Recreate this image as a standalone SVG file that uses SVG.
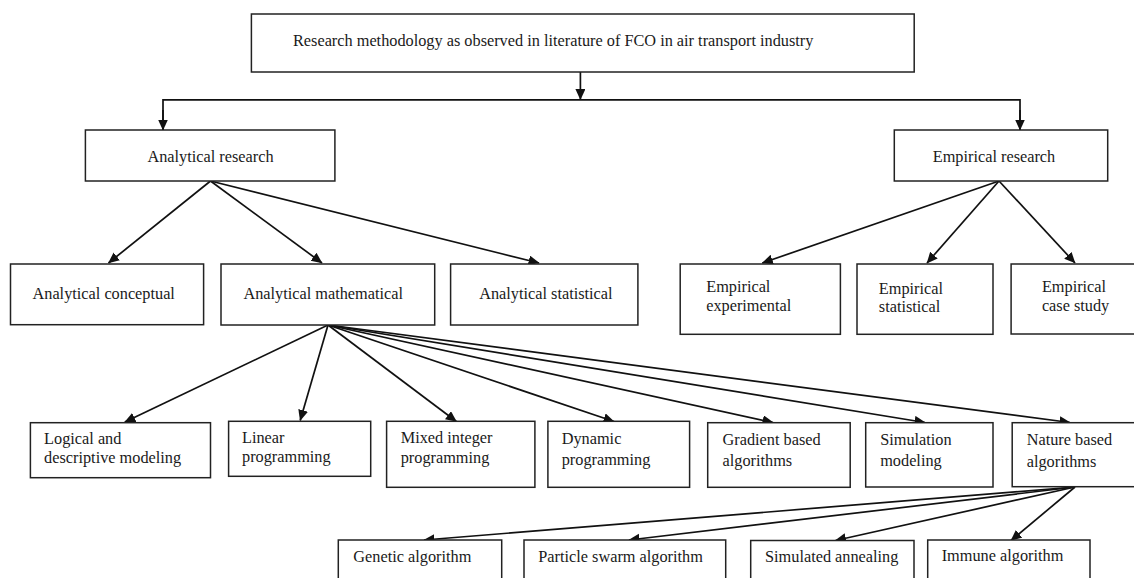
<svg xmlns="http://www.w3.org/2000/svg" width="1134" height="578" viewBox="0 0 1134 578">
<style>
.box{fill:#fff;stroke:#222;stroke-width:1.5}
.lbl{font-family:"Liberation Serif","Times New Roman",serif;font-size:16.3px;fill:#1a1a1a}
.c{text-anchor:middle}
.ln{fill:none;stroke:#111;stroke-width:1.7}
</style>
<defs>
<marker id="ah" markerUnits="userSpaceOnUse" markerWidth="12" markerHeight="12" refX="10.5" refY="5" orient="auto">
<path d="M0,0 L11,5 L0,10 z" fill="#111"/>
</marker>
</defs>
<rect width="1134" height="578" fill="#fff"/>

<g id="connectors">
<line class="ln" x1="580.4" y1="72" x2="580.4" y2="99.5" marker-end="url(#ah)"/>
<polyline class="ln" points="163,130 163,99.8 1020,99.8 1020,130"/>
<line class="ln" x1="163" y1="110" x2="163" y2="130" marker-end="url(#ah)"/>
<line class="ln" x1="1020" y1="110" x2="1020" y2="130" marker-end="url(#ah)"/>

<line class="ln" x1="210.5" y1="181" x2="108.5" y2="263" marker-end="url(#ah)"/>
<line class="ln" x1="210.5" y1="181" x2="322" y2="263" marker-end="url(#ah)"/>
<line class="ln" x1="210.5" y1="181" x2="539" y2="263" marker-end="url(#ah)"/>

<line class="ln" x1="999" y1="181" x2="762.3" y2="263" marker-end="url(#ah)"/>
<line class="ln" x1="999" y1="181" x2="927" y2="263" marker-end="url(#ah)"/>
<line class="ln" x1="999" y1="181" x2="1075" y2="263" marker-end="url(#ah)"/>

<line class="ln" x1="328" y1="325" x2="124.8" y2="422" marker-end="url(#ah)"/>
<line class="ln" x1="328" y1="325" x2="300.2" y2="420.5" marker-end="url(#ah)"/>
<line class="ln" x1="328" y1="325" x2="456.4" y2="421.5" marker-end="url(#ah)"/>
<line class="ln" x1="328" y1="325" x2="614" y2="421.5" marker-end="url(#ah)"/>
<line class="ln" x1="328" y1="325" x2="773" y2="422.5" marker-end="url(#ah)"/>
<line class="ln" x1="328" y1="325" x2="925" y2="422.5" marker-end="url(#ah)"/>
<line class="ln" x1="328" y1="325" x2="1070" y2="422.5" marker-end="url(#ah)"/>

<line class="ln" x1="1075" y1="487" x2="424" y2="540" marker-end="url(#ah)"/>
<line class="ln" x1="1075" y1="487" x2="629" y2="540" marker-end="url(#ah)"/>
<line class="ln" x1="1075" y1="487" x2="835.5" y2="540.5" marker-end="url(#ah)"/>
<line class="ln" x1="1075" y1="487" x2="1011" y2="540.5" marker-end="url(#ah)"/>
</g>

<g id="root">
<rect class="box" x="251.4" y="14" width="662.8" height="58"/>
<text class="lbl" x="293" y="46">Research methodology as observed in literature of FCO in air transport industry</text>
</g>

<g id="analytical-research">
<rect class="box" x="85.4" y="130" width="249.5" height="51"/>
<text class="lbl c" x="210.5" y="162">Analytical research</text>
</g>
<g id="empirical-research">
<rect class="box" x="894.3" y="130" width="213.4" height="51"/>
<text class="lbl c" x="994" y="162">Empirical research</text>
</g>

<g id="analytical-conceptual">
<rect class="box" x="10.5" y="264" width="193.1" height="60.7"/>
<text class="lbl" x="32.5" y="299">Analytical conceptual</text>
</g>
<g id="analytical-mathematical">
<rect class="box" x="221" y="264" width="213.7" height="61"/>
<text class="lbl" x="243.4" y="299">Analytical mathematical</text>
</g>
<g id="analytical-statistical">
<rect class="box" x="450.6" y="264" width="187.3" height="61"/>
<text class="lbl" x="479.2" y="299">Analytical statistical</text>
</g>

<g id="empirical-experimental">
<rect class="box" x="680.2" y="264" width="160.2" height="70.3"/>
<text class="lbl" x="706.2" y="291.7">Empirical<tspan x="706.2" y="310.7">experimental</tspan></text>
</g>
<g id="empirical-statistical">
<rect class="box" x="857" y="264" width="136" height="70.3"/>
<text class="lbl" x="878.8" y="293.5">Empirical<tspan x="878.8" y="312.3">statistical</tspan></text>
</g>
<g id="empirical-case-study">
<rect class="box" x="1011.1" y="264" width="130" height="70"/>
<text class="lbl" x="1041.9" y="291.5">Empirical<tspan x="1041.9" y="310.5">case study</tspan></text>
</g>

<g id="logical-descriptive">
<rect class="box" x="30.4" y="422.7" width="180.1" height="55"/>
<text class="lbl" x="44.1" y="444.3">Logical and<tspan x="44.1" y="463.3">descriptive modeling</tspan></text>
</g>
<g id="linear-programming">
<rect class="box" x="228.6" y="421.3" width="142.1" height="55"/>
<text class="lbl" x="242" y="443.3">Linear<tspan x="242" y="461.7">programming</tspan></text>
</g>
<g id="mixed-integer">
<rect class="box" x="386.6" y="421.3" width="148.3" height="66"/>
<text class="lbl" x="400.7" y="443.3">Mixed integer<tspan x="400.7" y="463.3">programming</tspan></text>
</g>
<g id="dynamic-programming">
<rect class="box" x="547.9" y="421.3" width="141.7" height="66"/>
<text class="lbl" x="561.7" y="444.3">Dynamic<tspan x="561.7" y="465">programming</tspan></text>
</g>
<g id="gradient-based">
<rect class="box" x="707.7" y="422.7" width="142.5" height="64.6"/>
<text class="lbl" x="722.5" y="445">Gradient based<tspan x="722.5" y="466">algorithms</tspan></text>
</g>
<g id="simulation-modeling">
<rect class="box" x="865.7" y="422.7" width="127.3" height="64.3"/>
<text class="lbl" x="880.2" y="445">Simulation<tspan x="880.2" y="466">modeling</tspan></text>
</g>
<g id="nature-based">
<rect class="box" x="1012.2" y="422.7" width="130" height="64"/>
<text class="lbl" x="1026.7" y="445">Nature based<tspan x="1026.7" y="466.5">algorithms</tspan></text>
</g>

<g id="genetic-algorithm">
<rect class="box" x="338.3" y="540" width="163.4" height="60"/>
<text class="lbl" x="353.3" y="561.7">Genetic algorithm</text>
</g>
<g id="particle-swarm">
<rect class="box" x="524" y="540" width="201.7" height="60"/>
<text class="lbl" x="538.3" y="561.7">Particle swarm algorithm</text>
</g>
<g id="simulated-annealing">
<rect class="box" x="750.7" y="540.5" width="163.3" height="60"/>
<text class="lbl" x="765" y="562.3">Simulated annealing</text>
</g>
<g id="immune-algorithm">
<rect class="box" x="927.7" y="540" width="162.3" height="60"/>
<text class="lbl" x="941.7" y="560.7">Immune algorithm</text>
</g>
</svg>
